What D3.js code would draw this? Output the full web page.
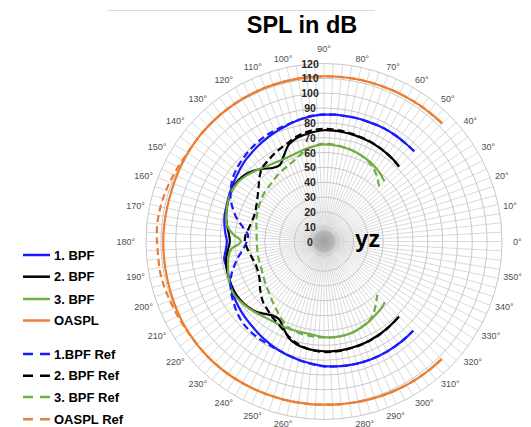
<!DOCTYPE html>
<html>
<head>
<meta charset="utf-8">
<script src="https://cdn.jsdelivr.net/npm/d3@7"></script>
<style>
  html, body { margin: 0; padding: 0; background: #ffffff; }
  svg { display: block; font-family: "Liberation Sans", Arial, sans-serif; }
</style>
</head>
<body>
<svg id="chart" width="531" height="427"></svg>
<script>
// Measurement directions (degrees, counter-clockwise from +y axis of the yz plane)
const angles = [45,50,55,60,65,70,75,80,85,90,95,100,105,110,115,120,125,130,135,140,
  145,150,155,160,165,170,175,180,185,190,195,200,205,210,215,220,225,230,235,240,
  245,250,255,260,265,270,275,280,285,290,295,300,305,310,315];

// Sound pressure level, dB
const bpf1 = [86,86,86.2,86.3,86.2,86,86,85.8,85.8,85.5,85,84,82.8,81.5,80.5,79.3,78.2,77,76,74.5,
  73.2,72,71,70,69.3,68.2,66.8,65.5,66.5,68.3,68,68.3,69.5,71,72,73,74,75,76.3,77.5,
  78.8,80,81,82,83,84,84.5,85,85.2,85.5,85.5,85.5,85.3,85.2,85];
const bpf2 = [71.5,72.3,73,73.5,74,74.3,74.6,74.8,75,75,74.3,73.3,72,69.5,64,59.5,60.5,64,67.3,69.8,
  71,71.2,70.5,69.5,68.3,66.5,64.5,63.5,65,67,68,68.6,69,69.2,68.8,67.8,66.2,63.5,60.8,60.5,
  64.5,69.3,71.8,73,73.7,74,74.2,74.2,74,73.8,73.4,73,72.5,72,71.5];
const bpf3 = [57.5,59.3,60.8,62,63,63.8,64.5,65,65.3,65.5,64.8,63.8,62.8,62,61.8,62.2,63.2,64.8,66.8,68.8,
  70.3,71,70.6,69.6,68.2,66.6,62,56,63,65.5,67,68.5,69.8,70.4,69.5,68.2,66.8,65.3,64.3,63.8,
  63.6,63.3,63,63,63.6,64.5,64.8,64.8,64.5,63.8,62.8,61.8,60.5,59.5,58];
const oaspl = [112.6,112.4,112.2,112,111.9,111.8,111.7,111.6,111.5,111.4,111.3,111.2,111.1,111,110.9,110.8,110.6,110.4,110.2,110,
  109.6,109.2,108.8,108.4,108.2,108.2,108.3,108.4,108.4,108.5,108.7,109,109.4,109.8,110,110.2,110.3,110.3,110.3,110.2,
  110.1,110,110,110,110,110,110.2,110.4,110.7,111,111.3,111.6,111.8,112,112.2];

const bpf1Ref = [86,86,86.2,86.3,86.2,86,86,85.8,85.8,85.7,85.2,84.2,83,82.3,81.8,81.2,80.3,79.2,78,76.7,
  75,72.5,69.5,65.5,61,55.5,51.5,52,54.5,58.5,62.5,66.5,69.5,72,74,76,77.5,78.3,78.7,78.8,
  79.2,79.8,81,82.2,83.2,84.2,84.6,85,85.3,85.4,85.6,85.5,85.4,85.2,85];
const bpf2Ref = [71.5,72.3,73,73.6,74.2,74.6,75,75.5,75.8,76,75.6,74.5,73,70.8,69.3,67.8,66.2,64.8,61.5,57.5,
  54.5,52.3,50.8,50.2,50.6,51.5,53,53.3,52,50.5,49.2,48.6,49,50.2,52.8,55.5,58,59.6,61.5,63.2,
  65.6,68.5,71,72.8,73.8,74.5,74.6,74.5,74.2,74,73.6,73.2,72.6,72,71.5];
const bpf3Ref = [52.5,56,59,61.3,62.8,63.8,64.6,65.2,65.7,66,65,63.3,60.8,58.3,56.6,55.6,54.6,53.4,52.5,52,
  51.2,50.2,49.2,48.3,47.2,46.2,45.6,45.3,45.3,45.4,45.6,45.8,46.2,47.2,48.4,49.8,51.4,53.6,56,58.8,
  61.6,63.3,64,64.3,64.5,64.7,64.9,64.9,64.6,63.9,62.8,61.5,58.5,54.5,50.8];
const oasplRef = [112.6,112.4,112.2,112,111.9,111.8,111.7,111.6,111.5,111.4,111.3,111.2,111.1,111,110.9,110.8,110.6,110.4,110.2,110,
  109.7,110,110.8,111.6,112.3,112.8,113,112.6,112.2,112.4,112,111.4,110.8,110.4,110.2,110.2,110.3,110.3,110.3,110.2,
  110.1,110,110,110,110,110,110.2,110.4,110.7,111,111.3,111.6,111.8,112,112.2];

// Axis labels
const radialTicks = [0,10,20,30,40,50,60,70,80,90,100,110,120];
const angleTicks = [0,10,20,30,40,50,60,70,80,90,100,110,120,130,140,150,160,170,
  180,190,200,210,220,230,240,250,260,270,280,290,300,310,320,330,340,350];
const spokeStep = 3;

const seriesNames = ["1. BPF","2. BPF","3. BPF","OASPL","1.BPF Ref","2. BPF Ref","3. BPF Ref","OASPL Ref"];
const seriesColors = ["#1a1aff","#000000","#70ad47","#ed7d31","#1a1aff","#000000","#70ad47","#ed7d31"];
const seriesDashed = [false,false,false,false,true,true,true,true];
const seriesData = [bpf1,bpf2,bpf3,oaspl,bpf1Ref,bpf2Ref,bpf3Ref,oasplRef];

const svg = d3.select("#chart");
const cx = 324, cy = 241.5, R = 178;
const r = d3.scaleLinear().domain([0,120]).range([0,R]);
const toRad = d => d * Math.PI / 180;
// polar angle (ccw from the right) -> d3 radial angle (cw from the top)
const radialAngle = d => Math.PI / 2 - toRad(d);

const defs = svg.append("defs");
const hub = defs.append("radialGradient").attr("id","hub");
hub.append("stop").attr("offset","0%").attr("stop-color","#a0a0a0").attr("stop-opacity",1);
hub.append("stop").attr("offset","65%").attr("stop-color","#b0b0b0").attr("stop-opacity",0.85);
hub.append("stop").attr("offset","100%").attr("stop-color","#cccccc").attr("stop-opacity",0);

// thin rule above the title
svg.append("line").attr("x1",108).attr("x2",375).attr("y1",10.5).attr("y2",10.5)
  .attr("stroke","#d9d9d9").attr("stroke-width",1);

svg.append("text").attr("x",302).attr("y",33).attr("text-anchor","middle")
  .attr("font-size",23.5).attr("font-weight","bold").attr("fill","#000").text("SPL in dB");

const g = svg.append("g").attr("transform",`translate(${cx},${cy})`);

// spokes
const spokes = d3.range(0, 360, spokeStep);
g.selectAll("line.spoke").data(spokes).join("line")
  .attr("class","spoke")
  .attr("x1",0).attr("y1",0)
  .attr("x2",d => R * Math.cos(toRad(d)))
  .attr("y2",d => -R * Math.sin(toRad(d)))
  .attr("stroke","#d0d0d0").attr("stroke-width",0.8);

// dense hub where the spokes meet
g.append("circle").attr("r",15).attr("fill","url(#hub)");

// rings
g.selectAll("circle.ring").data(radialTicks.filter(d => d > 0)).join("circle")
  .attr("class","ring").attr("r",d => r(d))
  .attr("fill","none").attr("stroke","#c8c8c8").attr("stroke-width",1);

// angle labels: the text box sits just outside the outer ring,
// pushed out by half its width / height on the side facing away from the centre
const labelGap = 182;
const sgn = v => Math.abs(v) < 1e-6 ? 0 : Math.sign(v);
g.selectAll("text.ang").data(angleTicks).join("text")
  .attr("class","ang")
  .attr("text-anchor","middle").attr("dominant-baseline","central")
  .attr("font-size",9).attr("fill","#4d4d4d")
  .text(d => d + "°")
  .each(function(d) {
    const w = this.getComputedTextLength(), h = 7;
    const c = Math.cos(toRad(d)), s = Math.sin(toRad(d));
    const onAxis = sgn(c) === 0 || sgn(s) === 0;
    const extra = onAxis ? 7 : 0;
    const x = (labelGap + extra) * c + sgn(c) * w / 2;
    const y = -((labelGap + extra) * s + sgn(s) * h / 2);
    d3.select(this).attr("x", x).attr("y", y);
  });

// series
const line = d3.lineRadial()
  .angle((d,i) => radialAngle(angles[i]))
  .radius(d => r(d))
  .curve(d3.curveCatmullRom.alpha(0.5));

seriesData.forEach((vals, k) => {
  g.append("path").datum(vals)
    .attr("d", line)
    .attr("fill","none")
    .attr("stroke", seriesColors[k])
    .attr("stroke-width", 2.2)
    .attr("stroke-dasharray", seriesDashed[k] ? "7,4" : null)
    .attr("stroke-linejoin","round");
});

// radial value labels
g.selectAll("text.rad").data(radialTicks).join("text")
  .attr("class","rad")
  .attr("x",-14).attr("y",d => -r(d))
  .attr("text-anchor","middle").attr("dominant-baseline","central")
  .attr("font-size",10.5).attr("font-weight","bold").attr("fill","#262626")
  .text(d => d);

// plane label
svg.append("text").attr("x",355).attr("y",247).attr("font-size",24)
  .attr("font-weight","bold").attr("fill","#000").text("yz");

// legend
const legendY = [255,276.7,299,320.5,354,375.7,397,419.3];
const legend = svg.append("g");
seriesNames.forEach((name, k) => {
  legend.append("line")
    .attr("x1",23).attr("x2",50).attr("y1",legendY[k]).attr("y2",legendY[k])
    .attr("stroke",seriesColors[k]).attr("stroke-width",2.5)
    .attr("stroke-dasharray", seriesDashed[k] ? "10,7" : null);
  legend.append("text").attr("x",54).attr("y",legendY[k])
    .attr("dominant-baseline","central").attr("font-size",13)
    .attr("font-weight","bold").attr("fill","#000").text(name);
});
</script>
</body>
</html>
